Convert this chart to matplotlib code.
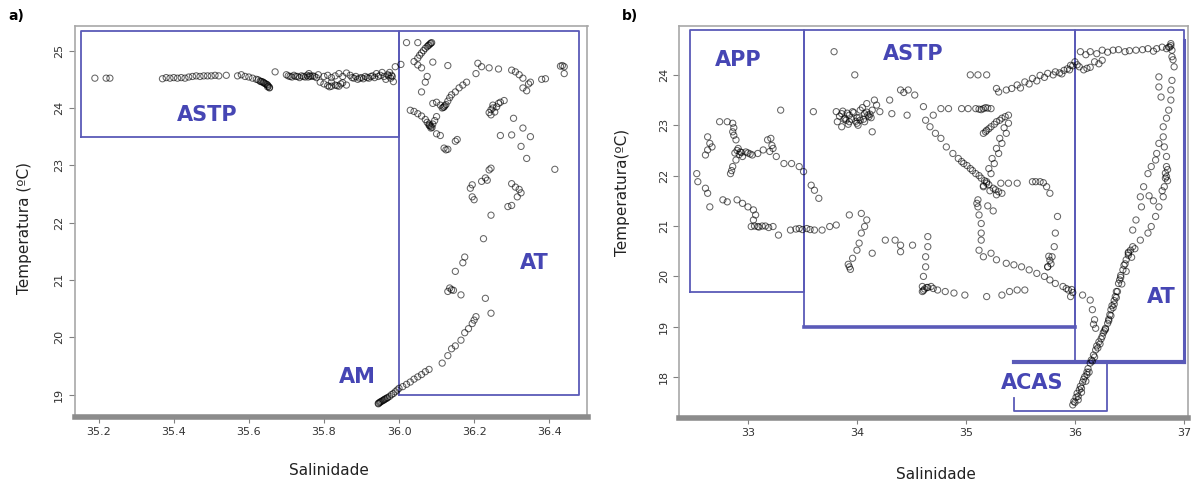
import matplotlib
matplotlib.use('Agg')
import matplotlib.pyplot as plt

# ---------------- Panel a) data (Salinity, Temperature) ----------------
sal_a = [
 35.19,35.22,35.23,
 35.37,35.38,35.39,35.40,35.41,35.42,35.43,35.44,35.45,35.46,35.47,35.48,35.49,35.50,35.51,35.52,35.54,
 35.57,35.58,35.59,35.60,35.61,35.62,35.63,35.635,35.64,35.645,35.65,35.65,35.655,
 35.625,35.632,35.638,35.642,35.648,35.652,35.655,
 35.67,35.70,35.71,35.72,35.73,35.735,35.74,35.75,35.755,35.76,35.765,35.77,35.78,35.785,
 35.705,35.715,35.725,35.745,35.758,35.762,35.775,
 35.79,35.80,35.81,35.82,35.83,35.84,35.845,35.85,35.86,35.82,35.815,35.835,
 35.80,35.81,35.82,35.83,35.84,35.85,35.86,35.87,35.88,35.885,35.89,35.90,35.91,35.92,35.93,35.94,35.95,35.955,35.96,35.965,35.97,35.975,35.98,35.985,35.99,36.005,
 35.875,35.895,35.905,35.915,35.925,35.935,35.945,35.972,35.978,35.982,
 36.02,36.05,36.04,36.05,36.055,36.06,36.065,36.07,36.075,36.08,36.083,36.087,36.09,36.05,36.06,36.078,36.085,
 36.075,36.07,36.06,36.13,
 36.09,36.10,36.11,36.115,36.12,36.125,36.13,36.135,36.14,36.15,36.16,36.17,36.18,36.118,36.122,
 36.03,36.04,36.05,36.06,36.07,36.075,36.08,36.085,36.09,36.085,36.095,36.10,36.10,36.11,36.08,36.088,36.082,
 36.12,36.125,36.13,36.15,36.155,
 36.21,36.205,36.22,36.24,36.265,36.30,36.31,36.32,36.33,36.33,36.34,36.345,36.35,36.38,36.39,36.43,36.44,36.435,36.44,
 36.24,36.245,36.25,36.255,36.25,36.26,36.265,36.27,36.28,36.245,
 36.305,36.33,36.30,36.27,36.35,36.325,36.34,36.415,
 36.24,36.245,36.195,36.19,36.20,36.195,36.22,36.235,36.23,
 36.30,36.31,36.32,36.325,36.315,36.29,36.30,
 36.245,36.225,36.175,36.17,36.15,36.135,36.14,36.13,36.145,36.165,36.23,36.245,
 36.205,36.20,36.195,36.185,36.175,36.165,36.15,36.14,36.13,36.115,
 36.08,36.07,36.06,36.05,36.04,36.03,36.02,36.01,36.00,
 35.995,35.99,35.985,35.98,35.975,35.97,35.965,35.96,35.955,35.95,35.945,35.945,
 35.948,35.952,35.958,35.962,35.968,
]
temp_a = [
 24.52,24.52,24.52,
 24.51,24.53,24.52,24.53,24.52,24.53,24.52,24.54,24.55,24.56,24.55,24.56,24.56,24.56,24.57,24.56,24.57,
 24.56,24.58,24.55,24.54,24.52,24.50,24.47,24.46,24.44,24.42,24.40,24.37,24.35,
 24.49,24.46,24.45,24.43,24.41,24.38,24.36,
 24.63,24.58,24.55,24.57,24.55,24.53,24.56,24.54,24.57,24.60,24.55,24.56,24.53,24.58,
 24.56,24.54,24.55,24.55,24.54,24.56,24.55,
 24.45,24.42,24.39,24.38,24.40,24.38,24.42,24.44,24.40,24.45,24.37,24.39,
 24.55,24.57,24.53,24.56,24.60,24.55,24.61,24.57,24.52,24.55,24.50,24.53,24.55,24.52,24.56,24.60,24.57,24.62,24.55,24.50,24.58,24.62,24.57,24.46,24.72,24.76,
 24.53,24.52,24.51,24.53,24.55,24.53,24.55,24.56,24.52,24.55,
 25.14,25.14,24.81,24.87,24.92,24.96,25.00,25.04,25.07,25.10,25.12,25.14,24.80,24.75,24.70,25.09,25.13,
 24.55,24.45,24.28,24.74,
 24.08,24.10,24.05,24.00,24.02,24.06,24.12,24.18,24.23,24.28,24.35,24.40,24.45,24.01,24.04,
 23.96,23.94,23.90,23.86,23.80,23.75,23.70,23.68,23.72,23.65,23.78,23.85,23.55,23.52,23.72,23.66,23.69,
 23.30,23.27,23.28,23.42,23.45,
 24.78,24.60,24.72,24.70,24.68,24.66,24.63,24.58,24.52,24.35,24.30,24.42,24.45,24.50,24.51,24.73,24.60,24.74,24.72,
 23.92,23.97,24.00,23.93,24.05,24.02,24.08,24.10,24.13,23.88,
 23.82,23.65,23.53,23.52,23.50,23.33,23.12,22.93,
 22.92,22.95,22.66,22.60,22.40,22.45,22.72,22.74,22.78,
 22.68,22.62,22.58,22.52,22.45,22.28,22.30,
 22.13,21.72,21.40,21.30,21.15,20.86,20.83,20.80,20.82,20.74,20.68,20.42,
 20.36,20.30,20.24,20.15,20.08,19.95,19.85,19.80,19.68,19.55,
 19.44,19.40,19.35,19.31,19.27,19.22,19.18,19.14,19.11,
 19.08,19.05,19.02,19.00,18.97,18.95,18.93,18.91,18.89,18.87,18.85,18.84,
 18.86,18.88,18.90,18.92,18.94,
]

# ---------------- Panel b) data ----------------
sal_b = [
 # APP
 32.53,32.54,32.61,32.63,32.65,
 32.77,32.81,32.90,32.95,33.00,33.05,33.07,33.05,33.03,33.09,33.16,33.23,33.28,33.39,33.47,33.54,33.61,33.68,33.75,33.81,
 33.06,33.10,33.13,33.19,33.44,33.50,33.57,
 32.63,32.65,32.63,32.61,32.67,
 32.74,32.81,32.86,32.86,32.87,32.89,32.91,32.93,32.95,32.89,32.86,32.84,32.85,32.88,32.90,32.92,32.94,32.87,
 32.98,33.04,33.09,33.14,33.18,33.21,33.23,33.26,33.33,33.40,33.47,33.51,33.58,33.61,33.65,33.00,33.02,33.20,33.22,
 33.30,33.60,
 # ASTP cluster
 33.79,33.98,
 33.81,33.86,33.89,33.93,34.00,34.07,34.11,34.14,34.09,34.16,34.21,34.30,34.14,33.86,33.82,33.96,34.03,34.07,34.03,33.93,34.00,33.97,34.05,34.10,33.90,
 33.84,33.88,33.92,33.95,33.99,34.02,34.06,34.09,34.12,33.87,33.91,34.01,34.13,34.18,
 34.32,34.46,34.40,34.47,34.53,34.61,34.63,34.70,34.43,
 34.77,34.84,34.96,35.02,35.09,35.12,35.16,35.20,35.23,35.14,35.18,
 34.67,34.72,34.77,34.82,34.88,34.93,34.98,35.04,35.09,35.14,35.19,35.25,35.30,35.33,35.28,35.22,35.16,
 34.96,35.01,35.06,35.12,35.17,35.21,35.27,
 35.16,35.19,35.23,35.28,35.33,35.39,35.39,35.37,35.33,35.30,35.26,35.23,35.19,35.16,35.20,35.25,
 35.18,35.21,35.26,35.31,35.36,35.35,35.31,35.28,35.24,35.21,
 35.11,35.11,35.12,35.14,35.14,35.14,35.10,
 35.32,35.39,35.47,35.61,35.68,35.74,35.77,35.84,35.82,35.81,35.79,35.75,35.64,35.71,
 35.04,35.11,35.19,35.28,35.30,35.37,35.42,35.47,35.54,35.61,35.68,35.75,35.82,35.90,35.96,36.00,35.50,35.58,35.65,35.72,35.80,35.86,35.93,35.88,35.95,35.98,
 34.04,34.09,34.07,34.04,34.02,34.00,33.96,33.93,33.94,33.92,
 33.93,34.26,34.35,34.40,34.40,34.51,34.14,
 34.65,34.65,34.63,34.63,34.61,34.60,34.60,34.62,34.65,34.68,34.70,34.74,34.81,34.89,34.99,35.19,35.33,35.40,35.47,35.54,34.61,34.64,
 35.12,35.16,35.23,35.28,35.37,35.44,35.51,35.58,35.65,35.72,35.77,35.82,35.89,35.94,35.96,35.77,35.75,35.78,35.76,35.98,35.92,35.97,
 36.07,36.14,36.16,36.18,36.19,36.17,
 # AT top and right edge
 36.05,36.14,36.25,36.35,36.46,36.56,36.67,36.75,36.84,36.88,36.89,36.10,36.20,36.30,36.40,36.50,36.62,36.72,36.80,36.86,36.88,
 36.04,36.11,36.18,36.25,36.02,36.08,36.14,36.22,
 36.89,36.91,36.89,36.88,36.88,36.86,36.84,36.81,36.81,36.82,36.84,36.84,36.84,36.82,36.81,36.77,36.74,36.70,36.67,36.60,36.53,36.49,36.87,36.90,36.85,36.83,36.85,36.83,36.80,
 36.77,36.77,36.79,36.77,36.75,36.74,36.70,36.67,36.63,36.60,36.61,36.56,36.53,36.72,36.68,
 # main diagonal
 35.98,35.99,36.01,36.02,36.04,36.05,36.07,36.08,36.09,36.11,36.12,36.14,36.15,36.17,36.19,36.20,36.22,36.25,36.26,36.28,36.30,36.31,36.32,36.33,36.34,36.36,36.37,36.38,36.40,36.41,36.42,36.44,36.45,36.47,36.49,36.51,
 36.03,36.06,36.10,36.13,36.18,36.23,36.28,36.33,36.36,36.39,36.42,36.46,36.49,
 36.00,36.03,36.06,36.11,36.16,36.21,36.24,36.27,36.31,36.35,36.38,36.43,36.47,36.52,36.55,
]
temp_b = [
 22.04,21.88,21.75,21.65,21.38,
 21.52,21.48,21.52,21.45,21.38,21.32,21.22,21.12,20.99,20.99,21.00,20.99,20.82,20.92,20.95,20.95,20.92,20.92,20.99,21.02,
 21.00,20.98,21.00,20.97,20.94,20.93,20.93,
 22.77,22.64,22.51,22.41,22.57,
 23.07,23.07,23.04,22.87,22.95,22.71,22.54,22.47,22.38,22.31,22.18,22.04,22.10,22.45,22.50,22.42,22.46,22.80,
 22.47,22.41,22.44,22.51,22.71,22.74,22.54,22.38,22.24,22.24,22.18,22.08,21.81,21.71,21.55,22.45,22.43,22.48,22.60,
 23.30,23.27,
 24.46,24.00,
 23.27,23.23,23.14,23.07,23.04,23.07,23.17,23.30,23.43,23.50,23.27,23.50,22.87,22.97,23.07,23.27,23.30,23.23,23.10,23.20,23.15,23.25,23.35,23.20,23.10,
 23.18,23.12,23.02,23.12,23.08,23.15,23.12,23.26,23.22,23.28,23.24,23.00,23.15,23.40,
 23.23,23.20,23.70,23.70,23.60,23.37,23.10,23.20,23.65,
 23.33,23.33,23.33,23.33,23.33,23.32,23.33,23.34,23.33,23.31,23.35,
 22.97,22.84,22.74,22.57,22.44,22.34,22.24,22.14,22.04,21.95,21.85,21.75,21.68,21.65,21.62,21.70,21.80,
 22.28,22.20,22.10,22.00,21.90,21.82,21.72,
 22.84,22.90,22.97,23.07,23.14,23.20,23.04,22.84,22.64,22.44,22.24,22.04,21.88,21.78,21.40,21.30,
 22.87,22.93,23.02,23.10,23.17,22.95,22.74,22.54,22.34,22.14,
 21.52,21.38,21.22,21.05,20.86,20.72,21.45,
 21.85,21.85,21.85,21.88,21.88,21.78,21.65,21.19,20.86,20.59,20.39,20.19,21.88,21.86,
 24.00,24.00,24.00,23.73,23.66,23.70,23.73,23.80,23.86,23.93,23.99,24.03,24.06,24.09,24.19,24.26,23.74,23.82,23.88,23.95,24.00,24.04,24.12,24.02,24.10,24.18,
 21.25,21.12,20.99,20.86,20.66,20.52,20.36,20.19,20.14,20.24,
 21.22,20.72,20.72,20.62,20.49,20.62,20.46,
 20.79,20.59,20.39,20.19,20.00,19.80,19.70,19.75,19.78,19.80,19.76,19.73,19.70,19.67,19.63,19.60,19.63,19.70,19.73,19.73,19.72,19.78,
 20.52,20.39,20.46,20.33,20.26,20.23,20.19,20.13,20.06,20.00,19.93,19.86,19.80,19.73,19.60,20.32,20.19,20.25,20.40,19.68,19.76,19.74,
 19.63,19.53,19.34,19.14,18.97,19.05,
 24.46,24.46,24.49,24.49,24.46,24.49,24.52,24.52,24.52,24.62,24.49,24.40,24.42,24.45,24.50,24.48,24.50,24.47,24.55,24.55,24.58,
 24.16,24.13,24.26,24.29,24.20,24.10,24.15,24.22,
 24.36,24.16,23.89,23.70,23.50,23.30,23.14,22.97,22.77,22.57,22.38,22.18,21.98,21.78,21.58,21.38,21.19,20.99,20.86,20.72,20.59,20.46,24.55,24.30,21.90,22.05,22.12,21.95,21.70,
 23.96,23.76,23.56,22.64,22.44,22.31,22.18,22.04,21.78,21.58,21.38,21.12,20.92,21.50,21.60,
 17.45,17.52,17.60,17.68,17.75,17.82,17.90,17.96,18.01,18.10,18.17,18.28,18.34,18.44,18.54,18.62,18.70,18.81,18.88,18.97,19.07,19.15,19.24,19.34,19.42,19.52,19.60,19.70,19.86,19.93,20.02,20.13,20.22,20.33,20.42,20.52,
 17.55,17.70,17.92,18.10,18.40,18.66,18.95,19.22,19.45,19.70,19.98,20.25,20.48,
 17.50,17.62,17.78,18.05,18.32,18.58,18.76,18.92,19.12,19.38,19.58,19.85,20.10,20.38,20.55,
]

# water-mass boxes: (S_min, S_max, T_min, T_max)
boxes_a = {"ASTP": (35.154, 36.0, 23.5, 25.35), "AT": (36.0, 36.48, 19.0, 25.35)}
boxes_b = {"APP": (32.47, 33.51, 19.69, 24.89), "ASTP": (33.51, 36.0, 19.0, 24.89),
           "AT": (36.0, 37.0, 18.31, 24.89), "ACAS": (35.44, 36.29, 17.32, 18.31)}
labels_a = {"ASTP": (35.49, 23.88), "AT": (36.36, 21.29), "AM": (35.89, 19.3)}
labels_b = {"APP": (32.91, 24.30), "ASTP": (34.52, 24.42), "AT": (36.79, 19.6), "ACAS": (35.61, 17.89)}

W, H = 1197, 486
fig = plt.figure(figsize=(W/100, H/100), dpi=100)
def rect(l, r, t, b):
    return [l/W, 1-b/H, (r-l)/W, (b-t)/H]

ax1 = fig.add_axes(rect(74.6, 587.5, 26, 417))
ax2 = fig.add_axes(rect(679.3, 1188.3, 26, 418))

BOX = '#5a5ab8'
TXT = '#4646b4'

def style(ax):
    for s in ['left', 'top', 'right']:
        ax.spines[s].set_color('#a8a8a8')
        ax.spines[s].set_linewidth(1.2)
    ax.spines['bottom'].set_color('#8c8c8c')
    ax.spines['bottom'].set_linewidth(4)
    ax.tick_params(axis='both', colors='#808080', labelcolor='#333333', length=4, width=0.8, labelsize=8)
    for lab in ax.get_yticklabels():
        lab.set_rotation(90)
        lab.set_va('center')

def scat(ax, S, T):
    ax.scatter(S, T, s=20, facecolors='none', edgecolors='black', linewidths=0.75, alpha=0.6, zorder=3)

# panel a
scat(ax1, sal_a, temp_a)
for k, (s0, s1, t0, t1) in boxes_a.items():
    ax1.plot([s0, s1, s1, s0, s0], [t0, t0, t1, t1, t0], color=BOX, lw=1.3, zorder=2)
for k, (x, y) in labels_a.items():
    ax1.text(x, y, k, color=TXT, fontsize=15, fontweight='bold', ha='center', va='center', zorder=4)
ax1.set_xlim(35.136, 36.502)
ax1.set_ylim(18.61, 25.43)
ax1.set_xticks([35.2, 35.4, 35.6, 35.8, 36.0, 36.2, 36.4])
ax1.set_xticklabels(['35.2', '35.4', '35.6', '35.8', '36.0', '36.2', '36.4'])
ax1.set_yticks([19, 20, 21, 22, 23, 24, 25])
style(ax1)

# panel b
scat(ax2, sal_b, temp_b)
for k, (s0, s1, t0, t1) in boxes_b.items():
    if k == "ACAS":
        ax2.plot([s0, s0, s1, s1], [t0 + 0.27, t0, t0, t1], color=BOX, lw=1.3, zorder=2)
        ax2.plot([s0, 37.0], [t1, t1], color=BOX, lw=3, zorder=2)
    elif k == "AT":
        ax2.plot([s0, s0, s1, s1], [t0, t1, t1, t0], color=BOX, lw=1.3, zorder=2)
        ax2.plot([s1, s1], [t0, t1 - 0.2], color=BOX, lw=2.2, zorder=2)
    elif k == "ASTP":
        ax2.plot([s1, s1, s0, s0], [t0, t1, t1, t0], color=BOX, lw=1.3, zorder=2)
        ax2.plot([s0, s1], [t0, t0], color=BOX, lw=2.6, zorder=2)
    else:
        ax2.plot([s0, s1, s1, s0, s0], [t0, t0, t1, t1, t0], color=BOX, lw=1.3, zorder=2)
for k, (x, y) in labels_b.items():
    ax2.text(x, y, k, color=TXT, fontsize=15, fontweight='bold' if k != 'ACAS' else 'semibold',
             ha='center', va='center', zorder=4)
ax2.set_xlim(32.37, 37.04)
ax2.set_ylim(17.19, 24.97)
ax2.set_xticks([33, 34, 35, 36, 37])
ax2.set_yticks([18, 19, 20, 21, 22, 23, 24])
style(ax2)

# axis titles and panel tags
fig.text(329/W, 1-470/H, 'Salinidade', ha='center', va='center', fontsize=11, color='#222222')
fig.text(936/W, 1-474/H, 'Salinidade', ha='center', va='center', fontsize=11, color='#222222')
fig.text(25/W, 1-228/H, 'Temperatura (ºC)', rotation=90, ha='center', va='center', fontsize=11, color='#222222')
fig.text(622/W, 1-192/H, 'Temperatura(ºC)', rotation=90, ha='center', va='center', fontsize=11, color='#222222')
fig.text(16/W, 1-16/H, 'a)', ha='center', va='center', fontsize=10, fontweight='bold')
fig.text(630/W, 1-16/H, 'b)', ha='center', va='center', fontsize=10, fontweight='bold')

fig.savefig('out.png', dpi=100, facecolor='white')
